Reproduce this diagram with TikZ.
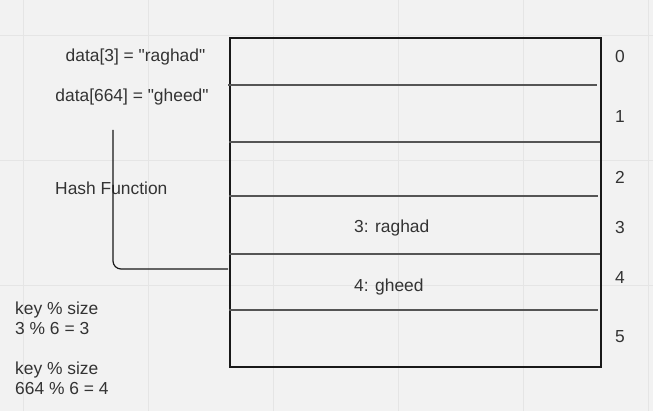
\documentclass[tikz,border=0pt]{standalone}
\usepackage{fontspec}
\setmainfont{Liberation Sans}[Ligatures=TeXOff]
\usetikzlibrary{positioning}
\definecolor{bgcol}{HTML}{F2F2F2}
\definecolor{gridcol}{HTML}{E5E5E5}
\definecolor{txtcol}{HTML}{333333}
\definecolor{rowcol}{HTML}{555555}

\begin{document}
\begin{tikzpicture}[x=1pt, y=-1pt, font=\fontsize{17.4pt}{20pt}\selectfont,
    every node/.style={text=txtcol, inner sep=0pt},
    slotline/.style={rowcol, line width=1.5pt}]
  % background and grid
  \fill[bgcol] (0,0) rectangle (653,411);
  \useasboundingbox (0,0) rectangle (653,411);
  \draw[gridcol, line width=1pt]
    (23,0) -- (23,411) (148,0) -- (148,411) (273,0) -- (273,411)
    (398,0) -- (398,411) (523,0) -- (523,411) (648,0) -- (648,411)
    (0,36) -- (653,36) (0,161) -- (653,161) (0,286) -- (653,286);
  % table
  \node (table) [draw=black!90, line width=2.2pt, minimum width=371pt,
    minimum height=329pt, anchor=north west] at (229,37) {};
  \draw[slotline] (228,85) -- (597,85);
  \draw[slotline] (229,142) -- (600,142);
  \draw[slotline] (229,196) -- (598,196);
  \draw[slotline] (229,254) -- (600,254);
  \draw[slotline] (229,310) -- (598,310);
  \node (slot3) [anchor=west] at (354,228.5) {3: raghad};
  \node (slot4) [anchor=west] at (354,287.5) {4: gheed};
  % indices
  \node (idx0) at (620,57) {0};
  \node (idx1) at (620,117) {1};
  \node (idx2) at (620,177) {2};
  \node (idx3) at (620,228) {3};
  \node (idx4) at (620,278) {4};
  \node (idx5) at (620,337) {5};
  % inputs
  \node (data3) at (135.5,57.5) {data[3] = "raghad"};
  \node (data664) at (132,97.5) {data[664] = "gheed"};
  \node (hashfn) [anchor=west] at (55,188.5) {Hash Function};
  \coordinate (hashtop) at (113,130);
  \coordinate (slot4in) at (228,269);
  \draw[black!90, line width=1.2pt, rounded corners=8pt] (hashtop) |- (slot4in);
  % modulo
  \node (calc3) [anchor=west, align=left] at (15,318.5) {key \% size\\3 \% 6 = 3};
  \node (calc664) [anchor=west, align=left] at (15,378.5) {key \% size\\664 \% 6 = 4};
\end{tikzpicture}
\end{document}
